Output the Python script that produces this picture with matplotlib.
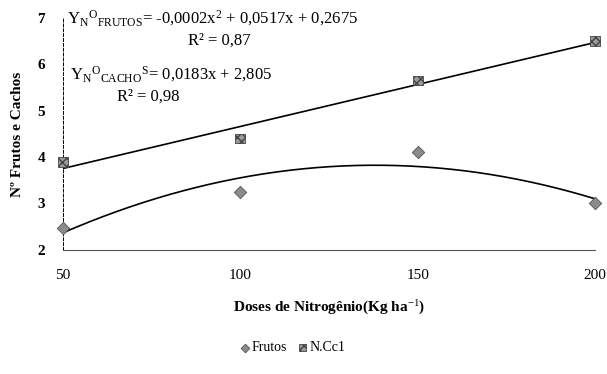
import numpy as np
import matplotlib
matplotlib.use("Agg")
import matplotlib.pyplot as plt

doses = [50, 100, 150, 200]
frutos = [2.47, 3.25, 4.1, 3.0]
ncc1 = [3.9, 4.4, 5.65, 6.5]
yticks = [2, 3, 4, 5, 6, 7]
xticks = [50, 100, 150, 200]

plt.rcParams['font.family'] = ['Liberation Serif', 'DejaVu Serif']
plt.rcParams['mathtext.fontset'] = 'custom'
plt.rcParams['mathtext.rm'] = 'Liberation Serif'
plt.rcParams['mathtext.it'] = 'Liberation Serif:italic'
plt.rcParams['mathtext.bf'] = 'Liberation Serif:bold'

fig = plt.figure(figsize=(6.07, 3.74), dpi=100)
ax = fig.add_axes([0.104, 0.332, 0.876, 0.62])

xs = np.linspace(50, 200, 200)
pf = np.polyfit(doses, frutos, 2)
pc = np.polyfit(doses, ncc1, 1)
ax.plot(xs, np.polyval(pf, xs), color='black', lw=1.2)
ax.plot(xs, np.polyval(pc, xs), color='black', lw=1.2)

ax.scatter(doses, frutos, marker='D', s=40, color='#8a8a8a', edgecolor='#555555', lw=0.6,
           zorder=3, clip_on=False, label='Frutos')
ax.scatter(doses, ncc1, marker='s', s=50, color='#9a9a9a', edgecolor='#444444', lw=0.6,
           hatch='xxxx', zorder=3, clip_on=False, label='N.Cc1')

ax.set_xlim(50, 200)
ax.set_ylim(2, 7)
ax.set_xticks(xticks)
ax.set_yticks(yticks)
ax.tick_params(length=0, labelsize=11, pad=14)
ax.tick_params(axis='y', pad=13)
for lab in ax.get_yticklabels():
    lab.set_fontweight('bold')
ax.spines['top'].set_visible(False)
ax.spines['right'].set_visible(False)
ax.spines['left'].set_linestyle((0, (3, 2)))
ax.spines['bottom'].set_linestyle((0, (1, 1)))
ax.spines['left'].set_linewidth(0.7)
ax.spines['bottom'].set_linewidth(0.8)
ax.spines['bottom'].set_color('#555555')

ax.set_xlabel('Doses de Nitrogênio(Kg ha$^{-1}$)', fontsize=11, fontweight='bold', labelpad=12)
ax.set_ylabel('Nº Frutos e Cachos', fontsize=11, fontweight='bold', labelpad=10)

ax.text(51, 7.0, r'Y$_\mathrm{N}$$^\mathrm{O}$$_\mathrm{FRUTOS}$= -0,0002x$^2$ + 0,0517x + 0,2675',
        fontsize=12, va='center', ha='left')
ax.text(94, 6.5, 'R² = 0,87', fontsize=12, va='center', ha='center')
ax.text(52, 5.78, r'Y$_\mathrm{N}$$^\mathrm{O}$$_\mathrm{CACHO}$$^\mathrm{S}$= 0,0183x + 2,805',
        fontsize=12, va='center', ha='left')
ax.text(74, 5.3, 'R² = 0,98', fontsize=12, va='center', ha='center')

fig.legend(handles=ax.collections[:2], labels=['Frutos', 'N.Cc1'], loc='center',
           bbox_to_anchor=(0.48, 0.07), ncol=2, frameon=False, fontsize=10,
           handletextpad=0.0, columnspacing=0.6, markerscale=0.7, handlelength=1.0)

fig.savefig('out.png', dpi=100)
